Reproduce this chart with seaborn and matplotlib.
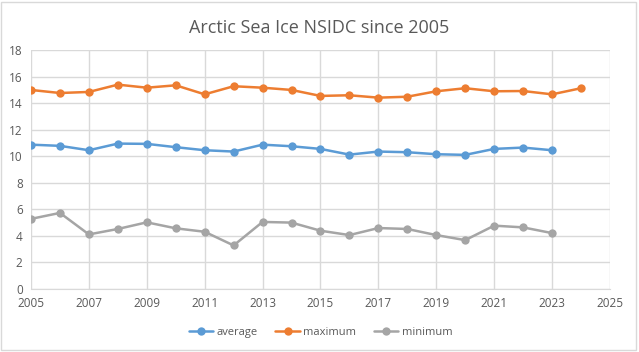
import pandas as pd
import numpy as np
import matplotlib.pyplot as plt
import seaborn as sns

years = list(range(2005, 2025))
average = [10.87, 10.78, 10.45, 10.95, 10.93, 10.68, 10.45, 10.35, 10.87, 10.75,
           10.55, 10.12, 10.35, 10.30, 10.15, 10.10, 10.55, 10.65, 10.45, np.nan]
maximum = [14.99, 14.76, 14.84, 15.39, 15.16, 15.34, 14.66, 15.27, 15.16, 14.99,
           14.54, 14.59, 14.41, 14.48, 14.89, 15.12, 14.89, 14.91, 14.66, 15.12]
minimum = [5.28, 5.73, 4.11, 4.52, 5.02, 4.57, 4.31, 3.28, 5.05, 5.00,
           4.39, 4.06, 4.59, 4.52, 4.06, 3.68, 4.77, 4.64, 4.21, np.nan]

data = pd.DataFrame({'year': years, 'average': average,
                     'maximum': maximum, 'minimum': minimum})
long = data.melt(id_vars='year', var_name='series', value_name='value').dropna()

sns.set_style('white')
plt.rcParams['font.family'] = ['Open Sans', 'DejaVu Sans']

fig = plt.figure(figsize=(6.39, 3.52), dpi=100)
ax = fig.add_axes([0.0485, 0.179, 0.906, 0.679])

palette = {'average': '#5B9BD5', 'maximum': '#ED7D31', 'minimum': '#A5A5A5'}
sns.lineplot(data=long, x='year', y='value', hue='series', palette=palette,
             marker='o', markersize=6, markeredgewidth=0, linewidth=1.8,
             ax=ax, legend=True)

ax.set_xlim(2005, 2025)
ax.set_ylim(0, 18)
ax.set_xticks(range(2005, 2026, 2))
ax.set_yticks(range(0, 19, 2))
ax.grid(True, color='#D9D9D9', linewidth=1)
ax.set_axisbelow(True)
for s in ['top', 'right', 'left']:
    ax.spines[s].set_visible(False)
ax.spines['bottom'].set_color('#D9D9D9')
ax.tick_params(axis='both', length=0, labelsize=8.5, colors='#595959', pad=6)
ax.set_xlabel('')
ax.set_ylabel('')

handles, labels = ax.get_legend_handles_labels()
ax.legend(handles, labels, loc='center', bbox_to_anchor=(0.5, -0.18),
          ncol=3, frameon=False, fontsize=8, labelcolor='#595959',
          handlelength=2.2, columnspacing=1.6, handletextpad=0.3)

fig.suptitle('Arctic Sea Ice NSIDC since 2005', y=0.945, fontsize=13,
             color='#595959')

# chart outline
fig.patches.append(plt.Rectangle((0.002, 0.005), 0.993, 0.99, transform=fig.transFigure,
                                 fill=False, edgecolor='#D9D9D9', linewidth=1))

fig.savefig('out.png', dpi=100)
